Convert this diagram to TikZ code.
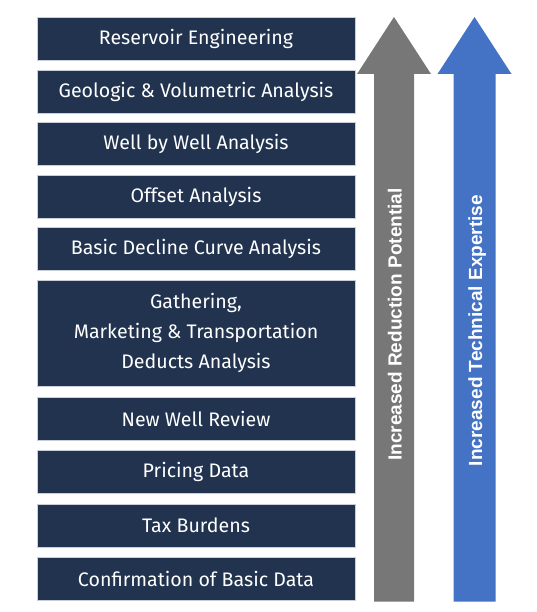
\documentclass[tikz,border=0pt]{standalone}
\usepackage{fontspec}
\setmainfont{Fira Sans}
\newfontfamily\arrowfont{Liberation Sans}
\usetikzlibrary{positioning}
\definecolor{navy}{HTML}{21334F}
\definecolor{rim}{HTML}{C9CFD8}
\definecolor{arrgray}{HTML}{777777}
\definecolor{arrblue}{HTML}{4472C4}

\tikzset{
  stepbox/.style={fill=navy,draw=rim,line width=0.6pt,minimum width=318pt,minimum height=43pt,
    inner sep=0pt,text=white,font=\fontsize{19.6}{30}\selectfont,align=center},
  arrlabel/.style={rotate=90,anchor=base,text=white,font=\arrowfont\bfseries\fontsize{19}{22}\selectfont}
}

\begin{document}
\begin{tikzpicture}[x=1pt,y=-1pt]
  \useasboundingbox (0,0) rectangle (536,612);
  % stack of analysis steps, top to bottom
  \foreach \y/\name/\lab in {
      39/res/Reservoir Engineering, 91.5/geo/Geologic \& Volumetric Analysis,
      144/wbw/Well by Well Analysis, 196.5/off/Offset Analysis,
      249/dec/Basic Decline Curve Analysis, 418.5/nwr/New Well Review,
      472/pri/Pricing Data, 525.5/tax/Tax Burdens, 579/con/Confirmation of Basic Data} {
    \node[stepbox] (\name) at (196,\y) {\lab};
  }
  \node[stepbox,minimum height=106pt] (gat) at (196,333) {Gathering,\\Marketing \& Transportation\\Deducts Analysis};
  % arrows: centre x, half shaft, colour, label y, label
  \foreach \cx/\hw/\col/\ty/\lab [count=\i] in {
      394/20/arrgray/324.5/Increased Reduction Potential,
      474.5/21/arrblue/330.5/Increased Technical Expertise} {
    \fill[\col] (\cx,17) -- (\cx+37,74) -- (\cx+\hw,74) -- (\cx+\hw,601.5)
      -- (\cx-\hw,601.5) -- (\cx-\hw,74) -- (\cx-37,74) -- cycle;
    \node[arrlabel] (arr\i) at (\cx+7.5,\ty) {\lab};
  }
\end{tikzpicture}
\end{document}
